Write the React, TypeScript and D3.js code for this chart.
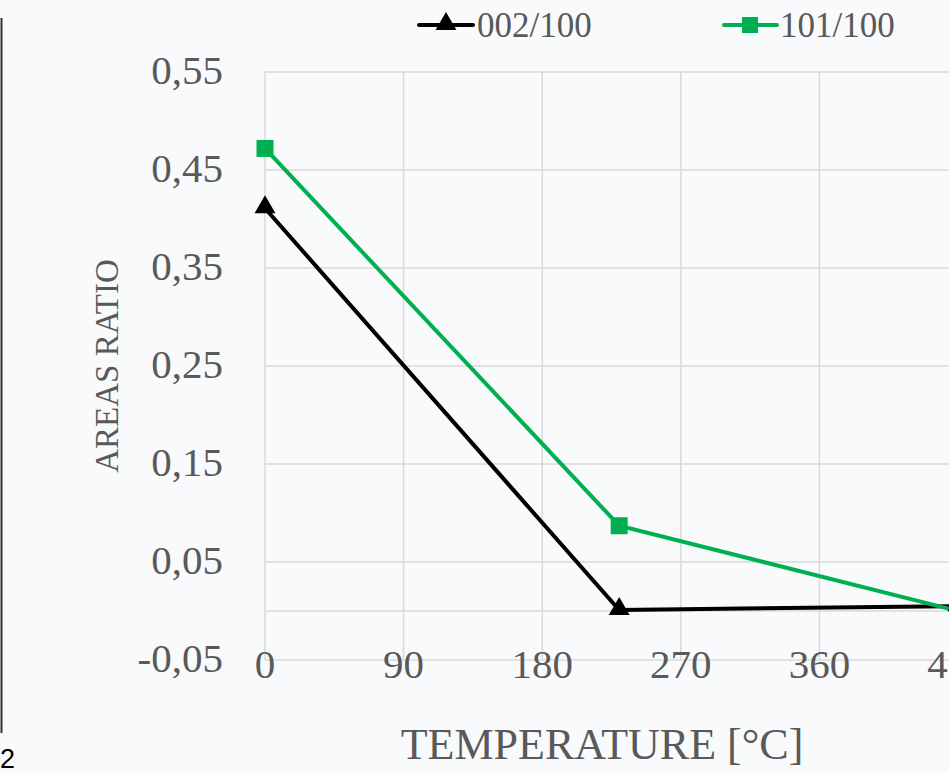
import React from "react"
import * as d3 from "d3"

// valori
const temps = [0, 230, 450]
const ratio002 = [0.411, 0.001, 0.005]
const ratio101 = [0.472, 0.087, 0.0]
const xTicks = [0, 90, 180, 270, 360, 450]
const yTicks = [-0.05, 0.05, 0.15, 0.25, 0.35, 0.45, 0.55]
const seriesNames = ["002/100", "101/100"]

const W = 949
const H = 773
const FONT = "'Liberation Serif', 'DejaVu Serif', serif"
const GRID = "#d9d9d9"
const TXT = "#595959"
const GREEN = "#00b050"

const x = d3.scaleLinear().domain([0, 450]).range([265, 958])
const y = d3.scaleLinear().domain([-0.05, 0.55]).range([660, 72])

const fmt = (v: number) => v.toFixed(2).replace(".", ",")

export default function App() {
  const line = d3
    .line<number>()
    .x((_, i) => x(temps[i]))
    .y((d) => y(d))
  const tri = d3.symbol().type(d3.symbolTriangle).size(190)()

  return (
    <svg
      width={W}
      height={H}
      style={{ position: "fixed", left: 0, top: 0, display: "block" }}
    >
      <rect x={0} y={0} width={W} height={H} fill="#f8fafc" />
      {/* bordo a sinistra */}
      <line x1={1.5} x2={1.5} y1={18} y2={733} stroke="#333" strokeWidth={2} />
      <text x={0} y={768} fontFamily="'Liberation Sans', Arial, sans-serif" fontSize={27} fill="#000">
        2
      </text>

      {/* griglia */}
      {yTicks.map((t) => (
        <line key={"h" + t} x1={x(0)} x2={W} y1={y(t)} y2={y(t)} stroke={GRID} strokeWidth={1.5} />
      ))}
      <line x1={x(0)} x2={W} y1={y(0)} y2={y(0)} stroke={GRID} strokeWidth={1.5} />
      {xTicks.map((t) => (
        <line key={"v" + t} x1={x(t)} x2={x(t)} y1={y(0.55)} y2={y(-0.05)} stroke={GRID} strokeWidth={1.5} />
      ))}

      {/* etichette assi */}
      {yTicks.map((t) => (
        <text
          key={"yl" + t}
          x={223}
          y={y(t) + 12}
          textAnchor="end"
          fontFamily={FONT}
          fontSize={41}
          fill={TXT}
        >
          {fmt(t)}
        </text>
      ))}
      {xTicks.map((t) => (
        <text
          key={"xl" + t}
          x={x(t)}
          y={678}
          textAnchor="middle"
          fontFamily={FONT}
          fontSize={41}
          fill={TXT}
        >
          {t}
        </text>
      ))}
      <text x={602} y={759} textAnchor="middle" fontFamily={FONT} fontSize={44} fill={TXT}>
        TEMPERATURE [°C]
      </text>
      <text
        transform={`translate(118,366) rotate(-90)`}
        textAnchor="middle"
        fontFamily={FONT}
        fontSize={33}
        fill={TXT}
      >
        AREAS RATIO
      </text>

      {/* serie */}
      <path d={line(ratio002) || ""} fill="none" stroke="#000" strokeWidth={4} />
      <path d={line(ratio101) || ""} fill="none" stroke={GREEN} strokeWidth={4} />
      {ratio002.map((v, i) => (
        <path key={"m1" + i} d={tri || ""} transform={`translate(${x(temps[i])},${y(v) - 1})`} fill="#000" />
      ))}
      {ratio101.map((v, i) => (
        <rect key={"m2" + i} x={x(temps[i]) - 8.5} y={y(v) - 8.5} width={17} height={17} fill={GREEN} />
      ))}

      {/* legenda */}
      <line x1={419} x2={473} y1={25} y2={25} stroke="#000" strokeWidth={4} strokeLinecap="round" />
      <path d={tri || ""} transform="translate(446,24)" fill="#000" />
      <text x={477} y={37} fontFamily={FONT} fontSize={35} fill={TXT}>
        {seriesNames[0]}
      </text>
      <line x1={724} x2={777} y1={25} y2={25} stroke={GREEN} strokeWidth={4} strokeLinecap="round" />
      <rect x={742} y={17} width={16} height={16} fill={GREEN} />
      <text x={780} y={37} fontFamily={FONT} fontSize={35} fill={TXT}>
        {seriesNames[1]}
      </text>
    </svg>
  )
}
